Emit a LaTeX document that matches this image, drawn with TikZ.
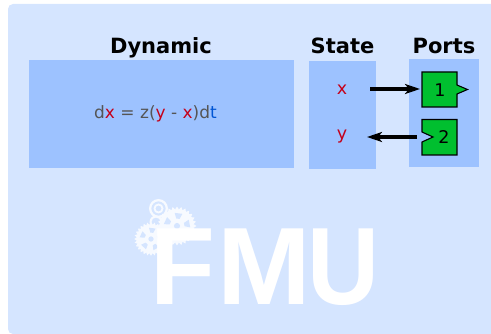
\documentclass[tikz,border=0pt]{standalone}
\usepackage{fontspec}
\setmainfont{DejaVu Sans}
\newfontfamily\fmufont[BoldFont={Liberation Sans Bold}]{Liberation Sans}
\usetikzlibrary{arrows.meta}
\definecolor{bgblue}{HTML}{D5E5FF}
\definecolor{boxblue}{HTML}{9DC2FF}
\definecolor{portgreen}{HTML}{00BF2F}
\definecolor{varred}{HTML}{C4001A}
\definecolor{timeblue}{HTML}{0055D4}
\definecolor{eqgray}{HTML}{555555}
\colorlet{gearwhite}{white!80!bgblue}
\newcommand{\gearshape}[4]{% cx cy radius teeth
  \fill[gearwhite] plot[samples=4*#4+1,domain=0:360,variable=\t]
    ({#1+#3*(1+0.08*cos(\t*#4))*cos(\t)},{#2+#3*(1+0.08*cos(\t*#4))*sin(\t)}) -- cycle;
  \foreach \a in {0,72,...,288}{
    \fill[bgblue] ({#1+0.42*#3*cos(\a+20+#4)},{#2+0.42*#3*sin(\a+20+#4)})
      -- ({#1+0.42*#3*cos(\a+46+#4)},{#2+0.42*#3*sin(\a+46+#4)})
      -- ({#1+0.74*#3*cos(\a+50+#4)},{#2+0.74*#3*sin(\a+50+#4)})
      -- ({#1+0.74*#3*cos(\a+16+#4)},{#2+0.74*#3*sin(\a+16+#4)}) -- cycle;
  }
  \fill[bgblue] (#1,#2) circle ({0.17*#3});
}
\tikzset{
  panel/.style={fill=boxblue,draw=none},
  title/.style={font=\bfseries\fontsize{21}{24}\selectfont,text=black,inner sep=0pt,anchor=base},
  var/.style={font=\fontsize{17.5}{20}\selectfont,text=varred,inner sep=1pt},
  portbox/.style={fill=portgreen,draw=black,line width=1.1pt,line join=miter},
  portlabel/.style={font=\fontsize{17.5}{20}\selectfont,text=black,inner sep=0pt},
  link/.style={draw=black,line width=3.6pt,-{Stealth[length=15pt,width=10pt,inset=4pt]}}
}
\begin{document}
\begin{tikzpicture}[x=1pt,y=-1pt]
\useasboundingbox (0,0) rectangle (491,334);
\begin{scope}
\clip (0,0) rectangle (491,334);
\fill[bgblue,rounded corners=5pt] (8,4) rectangle (510,334);
\end{scope}
% gears
\gearshape{177}{226}{18}{28}
\gearshape{151}{239}{15.5}{28}
\fill[gearwhite,even odd rule] (158.5,208.5) circle (9.5) (158.5,208.5) circle (7.2) (158.5,208.5) circle (5) (158.5,208.5) circle (3);
\fill[gearwhite,even odd rule] (156,222) circle (6.5) (156,222) circle (4.5);
\node[inner sep=0pt,anchor=base west,font=\fmufont\bfseries\fontsize{110}{114}\selectfont,text=white] (fmu) at (150.7,305) {\scalebox{0.964}[1]{F\kern1.5pt\scalebox{1.06}[1]{M}\kern-3pt\scalebox{0.94}[1]{U}}};
% panels
\fill[panel] (29,60) rectangle (294,168);
\fill[panel] (309,61) rectangle (376,169);
\fill[panel] (409,59) rectangle (479,167);
\node[title] (dyn) at (161,53.5) {Dynamic};
\node[title] (state) at (342.5,53.5) {State};
\node[title] (ports) at (444,53.5) {Ports};
\node[inner sep=0pt,font=\fontsize{17}{20}\selectfont,text=eqgray] (eq) at (155.5,113.5)
  {d\textcolor{varred}{x} = z(\textcolor{varred}{y} - \textcolor{varred}{x})d\textcolor{timeblue}{t}};
\node[var] (x) at (342,90) {x};
\node[var] (y) at (342,137) {y};
% ports
\draw[portbox] (422,72) -- (457,72) -- (457,85) -- (467.5,89.5) -- (457,94) -- (457,107) -- (422,107) -- cycle;
\draw[portbox] (422,119.5) -- (457,119.5) -- (457,155) -- (422,155) -- (422,142) -- (433,137) -- (422,132) -- cycle;
\node[portlabel] (p1) at (440,90.5) {1};
\node[portlabel] (p2) at (444,137.5) {2};
\coordinate (xout) at (370,89);
\coordinate (p1in) at (420,89);
\coordinate (p2out) at (417,137);
\coordinate (yin) at (367,137);
\draw[link] (xout) -- (p1in);
\draw[link] (p2out) -- (yin);
\end{tikzpicture}
\end{document}
